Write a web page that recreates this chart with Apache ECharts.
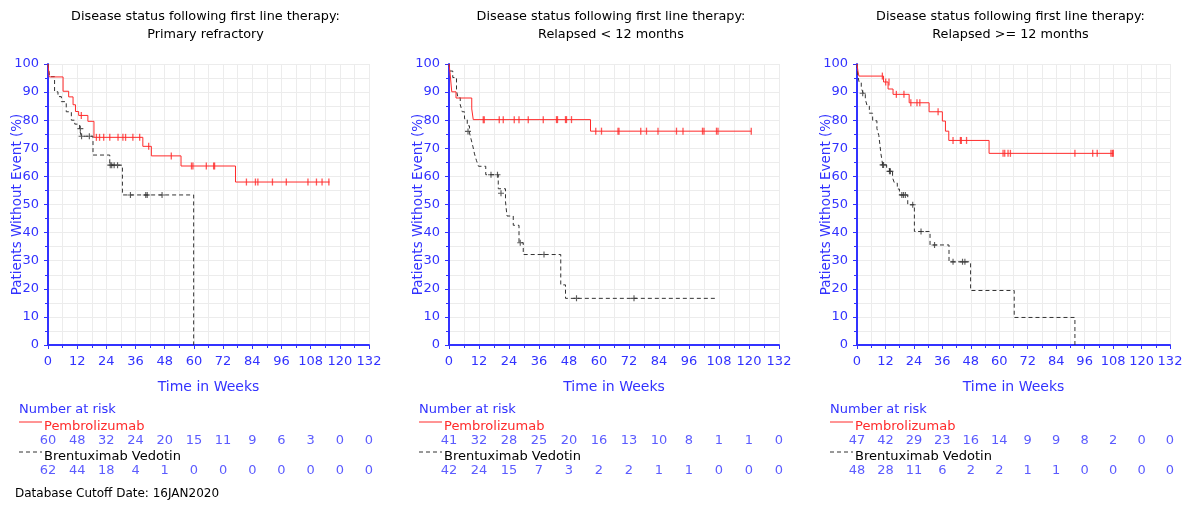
<!DOCTYPE html>
<html>
<head>
<meta charset="utf-8">
<script src="https://cdn.jsdelivr.net/npm/echarts@6/dist/echarts.min.js"></script>
<style>
  html, body { margin: 0; padding: 0; background: #fff; }
  #chart { width: 1190px; height: 506px; }
</style>
</head>
<body>
<div id="chart"></div>
<script>
// x axis ticks (weeks) and the times where number at risk is reported
const weekTicks = [0, 12, 24, 36, 48, 60, 72, 84, 96, 108, 120, 132]

const panelTitles = ['Primary refractory', 'Relapsed < 12 months', 'Relapsed >= 12 months']

// ---- Panel 1: Primary refractory ----
const p1Pembro = [[0, 100], [0.5, 95.4], [6.2, 90.3], [8.5, 88.3], [10.3, 85.5], [11.3, 83.1], [12.6, 81.7], [16.4, 79.6], [18.9, 73.9], [39, 70.7], [42.5, 67.3], [54.7, 63.7], [77.1, 58.0], [115.8, 58.0]]
const p1PembroCens = [[13.7, 81.7], [19.9, 73.9], [21.2, 73.9], [22.9, 73.9], [25.4, 73.9], [28.8, 73.9], [30.8, 73.9], [31.9, 73.9], [34.9, 73.9], [37.7, 73.9], [41.4, 70.7], [50.7, 67.3], [59, 63.7], [59.6, 63.7], [65.1, 63.7], [68.1, 63.7], [68.5, 63.7], [81.6, 58], [85.3, 58], [86.3, 58], [92.3, 58], [98, 58], [106.9, 58], [110.4, 58], [112.7, 58], [115.5, 58]]
const p1Brent = [[0, 100], [0.7, 95.5], [2.7, 90.1], [4.1, 88.4], [5.5, 86.6], [7.5, 83], [9.6, 80], [11, 78.6], [13, 76.5], [13.7, 74.3], [18.5, 67.6], [25.4, 64], [30.6, 53.4], [59.9, 0]]
const p1BrentCens = [[13.3, 77], [13.8, 74.3], [17, 74.3], [25.6, 64], [26.2, 64], [27.2, 64], [28.6, 64], [33.9, 53.4], [40.2, 53.4], [40.8, 53.4], [46.9, 53.4]]
const p1PembroRisk = [60, 48, 32, 24, 20, 15, 11, 9, 6, 3, 0, 0]
const p1BrentRisk = [62, 44, 18, 4, 1, 0, 0, 0, 0, 0, 0, 0]

// ---- Panel 2: Relapsed < 12 months ----
const p2Pembro = [[0, 100], [0.4, 97], [1.1, 90.1], [2.8, 87.9], [9.1, 84], [9.7, 80.2], [56.6, 76.1], [120.9, 76.1]]
const p2PembroCens = [[13.7, 80.2], [14.1, 80.2], [20.1, 80.2], [21.7, 80.2], [26.1, 80.2], [28, 80.2], [31.7, 80.2], [37.7, 80.2], [43, 80.2], [43.4, 80.2], [46.6, 80.2], [47, 80.2], [49, 80.2], [58.7, 76.1], [61, 76.1], [67.6, 76.1], [68, 76.1], [76.7, 76.1], [79, 76.1], [83.6, 76.1], [91, 76.1], [93.6, 76.1], [101.4, 76.1], [102, 76.1], [107, 76.1], [107.6, 76.1], [120.9, 76.1]]
const p2Brent = [[0, 100], [0.4, 97.5], [1.5, 95.2], [3, 90.5], [3.6, 88], [4.5, 85.5], [5.3, 83], [6.2, 80.5], [7.3, 78], [8.2, 75.5], [8.9, 73], [9.6, 70.5], [10.2, 68], [11, 65.6], [11.8, 63.6], [14.7, 60.6], [19.7, 55.6], [22.6, 51], [23.2, 45.9], [25.7, 42.6], [28, 36.4], [29.7, 32.2], [44.7, 21.4], [46.6, 16.6], [106.7, 16.6]]
const p2BrentCens = [[7.6, 76], [16.8, 60.6], [19.4, 60.6], [20.8, 54], [28.5, 36.4], [38, 32.2], [51, 16.6], [74, 16.6]]
const p2PembroRisk = [41, 32, 28, 25, 20, 16, 13, 10, 8, 1, 1, 0]
const p2BrentRisk = [42, 24, 15, 7, 3, 2, 2, 1, 1, 0, 0, 0]

// ---- Panel 3: Relapsed >= 12 months ----
const p3Pembro = [[0, 100], [0.4, 97.5], [0.8, 95.7], [11.2, 93.6], [13.1, 91.1], [15.2, 89.2], [22, 86.2], [30.4, 83], [36, 79.7], [37.3, 76.1], [38.7, 72.8], [55.7, 68.2], [108.1, 68.2]]
const p3PembroCens = [[10.7, 95.7], [12.1, 93.6], [13.5, 93.6], [16.6, 89.2], [19.8, 89.2], [22.7, 86.2], [25.3, 86.2], [26.5, 86.2], [34.2, 83], [40.5, 72.8], [43.6, 72.8], [44, 72.8], [46.2, 72.8], [61.6, 68.2], [62.3, 68.2], [63.7, 68.2], [64.7, 68.2], [91.9, 68.2], [99.4, 68.2], [101.3, 68.2], [107.1, 68.2], [107.7, 68.2], [108.1, 68.2]]
const p3Brent = [[0, 100], [0.3, 96], [0.9, 93.5], [1.8, 91.5], [2.6, 89.6], [3.5, 87.5], [4.3, 85], [5.2, 82.5], [6.6, 79.8], [8.4, 77], [9.2, 74.6], [9.7, 71], [10.1, 68], [10.5, 66], [10.8, 64.1], [12.5, 62.8], [13.7, 61.8], [15, 59.5], [15.8, 57.6], [17, 55.5], [17.9, 53.4], [21.4, 49.9], [24.2, 40.4], [30.8, 35.6], [38.8, 29.6], [47.9, 19.4], [66.3, 9.8], [91.9, 0]]
const p3BrentCens = [[2.4, 89.6], [10.8, 64.1], [11.2, 64.1], [13.7, 61.8], [14.1, 61.8], [18.9, 53.4], [19.6, 53.4], [20.4, 53.4], [23.5, 49.9], [27, 40.4], [32.7, 35.6], [40.5, 29.6], [44.5, 29.6], [45.5, 29.6]]
const p3PembroRisk = [47, 42, 29, 23, 16, 14, 9, 9, 8, 2, 0, 0]
const p3BrentRisk = [48, 28, 11, 6, 2, 2, 1, 1, 0, 0, 0, 0]

const panels = [
  { pembro: p1Pembro, pembroCens: p1PembroCens, brent: p1Brent, brentCens: p1BrentCens, pembroRisk: p1PembroRisk, brentRisk: p1BrentRisk },
  { pembro: p2Pembro, pembroCens: p2PembroCens, brent: p2Brent, brentCens: p2BrentCens, pembroRisk: p2PembroRisk, brentRisk: p2BrentRisk },
  { pembro: p3Pembro, pembroCens: p3PembroCens, brent: p3Brent, brentCens: p3BrentCens, pembroRisk: p3PembroRisk, brentRisk: p3BrentRisk }
]

const BLUE = '#3232ff'
const RED = '#ff2a2a'
const BLACK = '#333333'
const GRIDLINE = '#ececec'
const FONT = 'DejaVu Sans'

// plot area for each panel (left, width)
const layout = [
  { left: 48, width: 321, tableLeft: 19 },
  { left: 449, width: 330, tableLeft: 419 },
  { left: 857, width: 313, tableLeft: 830 }
]
const plotTop = 64
const plotHeight = 281

const chart = echarts.init(document.getElementById('chart'), null, { renderer: 'canvas' })

const grid = []
const xAxis = []
const yAxis = []
const series = []
const title = []
const graphic = []

layout.forEach((lay, i) => {
  const p = panels[i]
  const center = lay.left + lay.width / 2 - 8

  title.push({
    text: 'Disease status following first line therapy:\n' + panelTitles[i],
    left: center,
    top: 3,
    textAlign: 'center',
    textStyle: { color: '#000', fontSize: 12.8, fontWeight: 'normal', fontFamily: FONT, lineHeight: 18 }
  })

  // KM plot grid
  grid.push({ left: lay.left, top: plotTop, width: lay.width, height: plotHeight })
  // number at risk grid
  grid.push({ left: lay.left, top: 441, width: lay.width, height: 30 })

  const gPlot = i * 2
  const gRisk = i * 2 + 1

  xAxis.push({
    gridIndex: gPlot,
    type: 'value',
    min: 0,
    max: 132,
    interval: 12,
    name: 'Time in Weeks',
    nameLocation: 'middle',
    nameGap: 35,
    nameTextStyle: { color: BLUE, fontSize: 14, fontFamily: FONT },
    axisLine: { lineStyle: { color: BLUE, width: 2 } },
    axisTick: { lineStyle: { color: BLUE }, length: 4 },
    minorTick: { show: true, splitNumber: 2, length: 3, lineStyle: { color: BLUE } },
    axisLabel: { color: BLUE, fontSize: 13, fontFamily: FONT, margin: 10 },
    splitLine: { show: true, lineStyle: { color: GRIDLINE } },
    minorSplitLine: { show: true, lineStyle: { color: GRIDLINE } }
  })
  xAxis.push({ gridIndex: gRisk, type: 'value', min: 0, max: 132, show: false })

  yAxis.push({
    gridIndex: gPlot,
    type: 'value',
    min: 0,
    max: 100,
    interval: 10,
    name: 'Patients Without Event (%)',
    nameLocation: 'middle',
    nameGap: 24,
    nameMoveOverlap: false,
    nameTextStyle: { color: BLUE, fontSize: 13.5, fontFamily: FONT },
    axisLine: { show: true, lineStyle: { color: BLUE, width: 2 } },
    axisTick: { show: true, lineStyle: { color: BLUE }, length: 4 },
    minorTick: { show: true, splitNumber: 2, length: 3, lineStyle: { color: BLUE } },
    axisLabel: { color: BLUE, fontSize: 13, fontFamily: FONT, margin: 9 },
    splitLine: { show: true, lineStyle: { color: GRIDLINE } },
    minorSplitLine: { show: true, lineStyle: { color: GRIDLINE } }
  })
  yAxis.push({ gridIndex: gRisk, type: 'value', min: 0, max: 1, show: false })

  series.push({
    name: 'Pembrolizumab',
    type: 'line',
    xAxisIndex: gPlot,
    yAxisIndex: gPlot,
    step: 'end',
    symbol: 'none',
    lineStyle: { color: RED, width: 1 },
    data: p.pembro,
    z: 4
  })
  series.push({
    name: 'Brentuximab Vedotin',
    type: 'line',
    xAxisIndex: gPlot,
    yAxisIndex: gPlot,
    step: 'end',
    symbol: 'none',
    lineStyle: { color: BLACK, width: 1, type: [4, 3] },
    data: p.brent,
    z: 3
  })
  // censor marks
  series.push({
    type: 'scatter',
    xAxisIndex: gPlot,
    yAxisIndex: gPlot,
    symbol: 'rect',
    symbolSize: [1.3, 7],
    itemStyle: { color: RED },
    data: p.pembroCens,
    z: 5
  })
  series.push({
    type: 'scatter',
    xAxisIndex: gPlot,
    yAxisIndex: gPlot,
    symbol: 'path://M3,0h1.4v7.4h-1.4z M0,3h7.4v1.4h-7.4z',
    symbolSize: 6,
    itemStyle: { color: BLACK },
    data: p.brentCens,
    z: 5
  })

  // number at risk rows
  const riskLabel = {
    show: true,
    position: 'inside',
    color: BLUE,
    fontSize: 13,
    fontFamily: FONT,
    formatter: (prm) => String(prm.value[2])
  }
  series.push({
    type: 'scatter',
    xAxisIndex: gRisk,
    yAxisIndex: gRisk,
    symbolSize: 1,
    itemStyle: { color: 'rgba(0,0,0,0)' },
    label: riskLabel,
    data: weekTicks.map((t, k) => [t, 1, p.pembroRisk[k]])
  })
  series.push({
    type: 'scatter',
    xAxisIndex: gRisk,
    yAxisIndex: gRisk,
    symbolSize: 1,
    itemStyle: { color: 'rgba(0,0,0,0)' },
    label: riskLabel,
    data: weekTicks.map((t, k) => [t, 0, p.brentRisk[k]])
  })

  // risk table legend
  const tx = lay.tableLeft
  graphic.push(
    { type: 'text', left: tx, top: 403, style: { text: 'Number at risk', fill: BLUE, font: '13px ' + FONT } },
    { type: 'line', shape: { x1: tx, y1: 422, x2: tx + 23, y2: 422 }, style: { stroke: RED, lineWidth: 1 } },
    { type: 'text', left: tx + 25, top: 420, style: { text: 'Pembrolizumab', fill: RED, font: '13px ' + FONT } },
    { type: 'line', shape: { x1: tx, y1: 452, x2: tx + 23, y2: 452 }, style: { stroke: BLACK, lineWidth: 1, lineDash: [4, 3] } },
    { type: 'text', left: tx + 25, top: 450, style: { text: 'Brentuximab Vedotin', fill: '#000', font: '13px ' + FONT } }
  )
})

graphic.push({ type: 'text', left: 15, top: 488, style: { text: 'Database Cutoff Date: 16JAN2020', fill: '#000', font: '12px ' + FONT } })

chart.setOption({
  animation: false,
  backgroundColor: '#fff',
  title,
  grid,
  xAxis,
  yAxis,
  series,
  graphic
})
</script>
</body>
</html>
